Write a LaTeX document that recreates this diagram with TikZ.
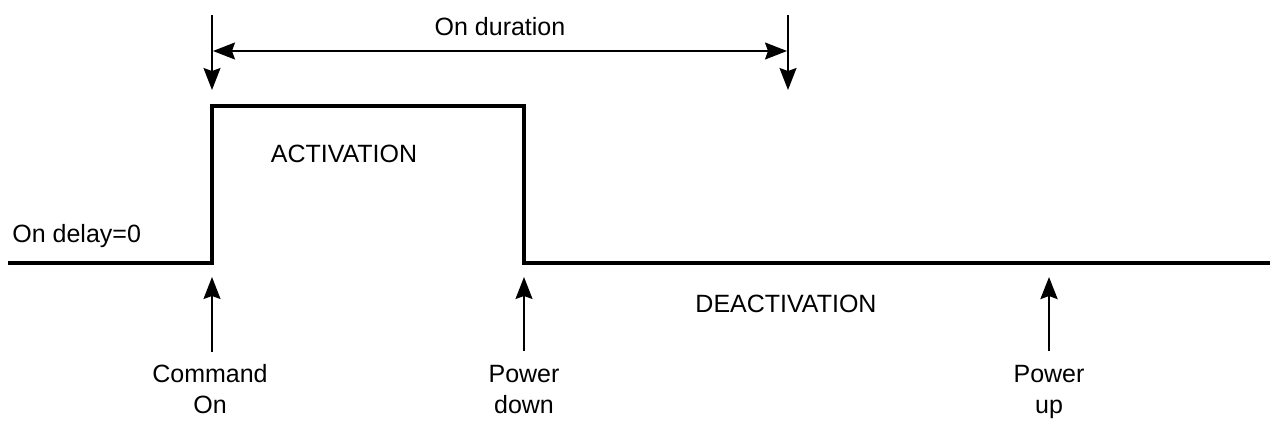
\documentclass[tikz,border=0pt]{standalone}
\usepackage{fontspec}
\setmainfont{Liberation Sans}
\usetikzlibrary{arrows.meta}

\begin{document}
\begin{tikzpicture}[x=0.5pt,y=-0.5pt,every node/.style={font=\fontsize{12.5}{15.5}\selectfont,inner sep=0pt},
label text/.style={align=center,anchor=base},
signal/.style={line width=2pt,line join=miter},
marker/.style={line width=0.8pt,-{Stealth[length=11pt,width=8.5pt,inset=1.5pt]}},
span/.style={line width=0.8pt,{Stealth[length=11pt,width=8.5pt,inset=1.5pt]}-{Stealth[length=11pt,width=8.5pt,inset=1.5pt]}}]
\useasboundingbox (0,0) rectangle (1273,423);
% square pulse
\coordinate (s0) at (8,263);
\coordinate (rise) at (212,263);
\coordinate (risetop) at (212,106);
\coordinate (falltop) at (524,106);
\coordinate (fall) at (524,263);
\coordinate (s1) at (1270,263);
\draw[signal] (s0) -- (rise) -- (risetop) -- (falltop) -- (fall) -- (s1);
% on duration
\coordinate (ontail) at (212,15);
\coordinate (ontip) at (212,90);
\coordinate (offtail) at (788,15);
\coordinate (offtip) at (788,90);
\coordinate (durl) at (213,51);
\coordinate (durr) at (787,51);
\draw[marker] (ontail) -- (ontip);
\draw[marker] (offtail) -- (offtip);
\draw[span] (durl) -- (durr);
\node[anchor=base] (dur) at (500,35) {On duration};
\node[anchor=base] (act) at (344,162) {ACTIVATION};
\node[anchor=base] (deact) at (786,312) {DEACTIVATION};
\node[anchor=base west] (delay) at (12,242) {On delay=0};
% events
\coordinate (cmdtail) at (212,352);
\coordinate (cmdtip) at (212,277);
\coordinate (downtail) at (524,351);
\coordinate (downtip) at (524,277);
\coordinate (uptail) at (1049,351);
\coordinate (uptip) at (1049,277);
\draw[marker] (cmdtail) -- (cmdtip);
\draw[marker] (downtail) -- (downtip);
\draw[marker,line width=1.4pt] (uptail) -- (uptip);
\node[label text] (cmd) at (210,413) {Command\\On};
\node[label text] (down) at (524,413) {Power\\down};
\node[label text] (up) at (1049,413) {Power\\up};
\end{tikzpicture}
\end{document}
